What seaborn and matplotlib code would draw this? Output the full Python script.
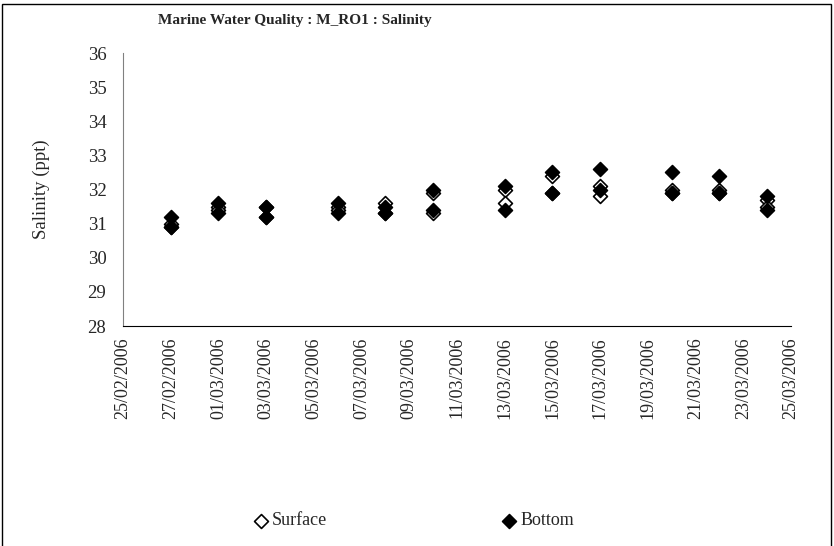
import pandas as pd
import numpy as np
import seaborn as sns
import matplotlib.pyplot as plt
import matplotlib.dates as mdates
from matplotlib.patches import Rectangle

# sampling dates and salinity readings (two per date)
dates = ["2006-02-27", "2006-03-01", "2006-03-03", "2006-03-06", "2006-03-08", "2006-03-10",
         "2006-03-13", "2006-03-15", "2006-03-17", "2006-03-20", "2006-03-22", "2006-03-24"]
surface_1 = [31.0, 31.5, 31.5, 31.5, 31.6, 31.9, 32.0, 32.4, 32.1, 32.0, 32.0, 31.7]
surface_2 = [30.9, 31.4, 31.2, 31.4, 31.3, 31.3, 31.6, 31.9, 31.8, 31.9, 31.9, 31.5]
bottom_1 = [31.2, 31.6, 31.5, 31.6, 31.5, 32.0, 32.1, 32.5, 32.6, 32.5, 32.4, 31.8]
bottom_2 = [30.9, 31.3, 31.2, 31.3, 31.3, 31.4, 31.4, 31.9, 32.0, 31.9, 31.9, 31.4]

d = pd.to_datetime(dates)
surface = pd.DataFrame({"date": list(d) * 2, "salinity": surface_1 + surface_2})
bottom = pd.DataFrame({"date": list(d) * 2, "salinity": bottom_1 + bottom_2})

sns.set_style("white")
plt.rcParams["font.family"] = ["Liberation Serif", "DejaVu Serif"]

fig = plt.figure(figsize=(8.34, 5.46), dpi=100)
ax = fig.add_axes([0.1475, 0.4029, 0.801, 0.5])

sns.scatterplot(data=surface, x="date", y="salinity", marker="D", s=50,
                facecolor="white", edgecolor="black", linewidth=1.2, label="Surface", ax=ax, zorder=3)
sns.scatterplot(data=bottom, x="date", y="salinity", marker="D", s=50,
                color="black", edgecolor="black", linewidth=1.2, label="Bottom", ax=ax, zorder=4)

ax.set_ylim(28, 36)
ax.set_yticks(range(28, 37))
ax.set_xlim(pd.Timestamp("2006-02-25"), pd.Timestamp("2006-03-25"))
ax.set_xticks(pd.date_range("2006-02-25", "2006-03-25", freq="2D"))
ax.xaxis.set_major_formatter(mdates.DateFormatter("%d/%m/%Y"))
plt.setp(ax.get_xticklabels(), rotation=90)

ax.tick_params(axis="x", direction="in", length=6, width=1, labelsize=13, pad=8, color="black")
ax.tick_params(axis="y", direction="inout", length=8, width=1, labelsize=13.5, pad=8, color="black")
for s in ["top", "right"]:
    ax.spines[s].set_visible(False)
ax.spines["left"].set_color("#808080")
ax.spines["bottom"].set_color("black")
ax.set_xlabel("")
ax.set_ylabel("Salinity (ppt)", fontsize=13.5)
ax.yaxis.set_label_coords(-0.11, 0.5)

fig.text(0.354, 0.963, "Marine Water Quality : M_RO1 : Salinity", ha="center", va="center",
         fontsize=11, fontweight="bold")

h, l = ax.get_legend_handles_labels()
ax.get_legend().remove()
fig.legend(h, l, loc="center", bbox_to_anchor=(0.495, 0.046), ncol=2, frameon=False,
           fontsize=13, columnspacing=9.6, handletextpad=0.1, handlelength=1)

fig.patches.append(Rectangle((0.002, -0.01), 0.994, 1.003, transform=fig.transFigure,
                             fill=False, edgecolor="black", linewidth=1))

fig.savefig("out.png", dpi=100)
